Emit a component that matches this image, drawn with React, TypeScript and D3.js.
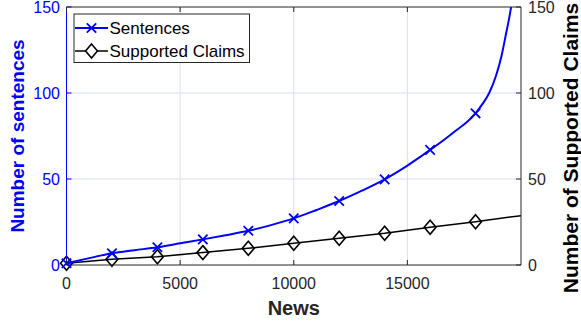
import React from "react";
import * as d3 from "d3";

const newsX = [0, 1000, 2000, 3000, 4000, 5000, 6000, 7000, 8000, 9000, 10000, 11000, 12000, 13000, 14000, 15000, 16000, 17000, 18000, 18300, 18600, 18900, 19150, 19350, 19500, 19565];
const sentences = [1, 4, 6.8, 8.6, 10.3, 12.6, 14.9, 17.3, 19.9, 23.2, 27.1, 32, 37.2, 43.2, 49.8, 57.8, 66.9, 76.8, 88.2, 93.5, 100, 110, 122, 135, 145, 150];
const markerX = [0, 2000, 4000, 6000, 8000, 10000, 12000, 14000, 16000, 18000];
const sentenceMarks = [1, 6.8, 10.3, 14.9, 19.9, 27.1, 37.2, 49.8, 66.9, 88.2];
const claimsX = [0, 2000, 4000, 6000, 8000, 10000, 12000, 14000, 16000, 18000, 20000];
const claims = [1, 3.3, 4.8, 7.2, 9.7, 12.6, 15.5, 18.4, 21.9, 25.2, 28.7];
const claimMarkIdx = [0, 1, 2, 3, 4, 5, 6, 7, 8, 9];
const xTicks = [0, 5000, 10000, 15000];
const yTicks = [0, 50, 100, 150];
const legendLabels = ["Sentences", "Supported Claims"];

const W = 581, H = 327;
const L = 66.5, R = 521, T = 7, B = 265;
const FONT = "'Liberation Sans', Arial, Helvetica, sans-serif";
const DARK = "#262626";
const BLUE = "#0000ff";

export default function App() {
  const x = d3.scaleLinear().domain([0, 20000]).range([L, R]);
  const y = d3.scaleLinear().domain([0, 150]).range([B, T]);
  const lineS = d3.line<number>().x((_, i) => x(newsX[i])).y((d) => y(d)).curve(d3.curveMonotoneX);
  const lineC = d3.line<number>().x((_, i) => x(claimsX[i])).y((d) => y(d));
  const tick = 5;
  const xm = 4.7, dm = 7;
  return (
    <div style={{ position: "fixed", left: 0, top: 0 }}>
      <svg width={W} height={H} style={{ display: "block", background: "#fff" }} fontFamily={FONT}>
        <rect x={0} y={0} width={W} height={H} fill="#fff" />
        {/* grid */}
        {xTicks.filter((t) => t > 0).map((t) => (
          <line key={"gx" + t} x1={x(t)} x2={x(t)} y1={T} y2={B} stroke="#dfdfdf" strokeWidth={1} />
        ))}
        {yTicks.filter((t) => t > 0 && t < 150).map((t) => (
          <line key={"gy" + t} x1={L} x2={R} y1={y(t)} y2={y(t)} stroke="#d9d9ff" strokeWidth={1} />
        ))}
        {/* series */}
        <defs>
          <clipPath id="plotclip">
            <rect x={L} y={T} width={R - L} height={B - T} />
          </clipPath>
        </defs>
        <path d={lineC(claims) || ""} fill="none" stroke="#000" strokeWidth={1.5} clipPath="url(#plotclip)" />
        {claimMarkIdx.map((i) => (
          <path key={"dm" + i}
            d={`M${x(claimsX[i])},${y(claims[i]) - dm}L${x(claimsX[i]) + dm * 0.85},${y(claims[i])}L${x(claimsX[i])},${y(claims[i]) + dm}L${x(claimsX[i]) - dm * 0.85},${y(claims[i])}Z`}
            fill="none" stroke="#000" strokeWidth={1.6} />
        ))}
        <path d={lineS(sentences) || ""} fill="none" stroke={BLUE} strokeWidth={2} clipPath="url(#plotclip)" />
        {markerX.map((v, i) => (
          <path key={"xm" + i}
            d={`M${x(v) - xm},${y(sentenceMarks[i]) - xm}L${x(v) + xm},${y(sentenceMarks[i]) + xm}M${x(v) - xm},${y(sentenceMarks[i]) + xm}L${x(v) + xm},${y(sentenceMarks[i]) - xm}`}
            stroke={BLUE} strokeWidth={1.8} fill="none" />
        ))}
        {/* axes box */}
        <line x1={L} x2={R} y1={T} y2={T} stroke={DARK} strokeWidth={1} />
        <line x1={L} x2={R} y1={B} y2={B} stroke={DARK} strokeWidth={1} />
        <line x1={R} x2={R} y1={T} y2={B} stroke={DARK} strokeWidth={1} />
        <line x1={L} x2={L} y1={T} y2={B} stroke={BLUE} strokeWidth={1} />
        {/* x ticks */}
        {xTicks.map((t) => (
          <g key={"xt" + t}>
            <line x1={x(t)} x2={x(t)} y1={B} y2={B - tick} stroke={DARK} />
            <line x1={x(t)} x2={x(t)} y1={T} y2={T + tick} stroke={DARK} />
            <text x={x(t)} y={283} textAnchor="middle" dominantBaseline="central" fontSize={16} fill={DARK}>{t}</text>
          </g>
        ))}
        {/* left y ticks */}
        {yTicks.map((t) => (
          <g key={"yl" + t}>
            <line x1={L} x2={L + tick} y1={y(t)} y2={y(t)} stroke={BLUE} />
            <text x={60} y={y(t)} textAnchor="end" dominantBaseline="central" fontSize={16} fill={BLUE}>{t}</text>
          </g>
        ))}
        {/* right y ticks */}
        {yTicks.map((t) => (
          <g key={"yr" + t}>
            <line x1={R} x2={R - tick} y1={y(t)} y2={y(t)} stroke={DARK} />
            <text x={528} y={y(t)} textAnchor="start" dominantBaseline="central" fontSize={16} fill={DARK}>{t}</text>
          </g>
        ))}
        {/* axis labels */}
        <text x={(L + R) / 2} y={308} textAnchor="middle" dominantBaseline="central" fontSize={20} fontWeight="bold" fill={DARK}>News</text>
        <text transform={`translate(17.5,${(T + B) / 2}) rotate(-90)`} textAnchor="middle" dominantBaseline="central" fontSize={19} fontWeight="bold" fill={BLUE}>Number of sentences</text>
        <text transform={`translate(570.5,148) rotate(-90)`} textAnchor="middle" dominantBaseline="central" fontSize={21} fontWeight="bold" fill="#000">Number of Supported Claims</text>
        {/* legend */}
        <rect x={74} y={14} width={175.5} height={48.5} fill="#fff" stroke={DARK} strokeWidth={1} />
        <line x1={75} x2={108} y1={28} y2={28} stroke={BLUE} strokeWidth={2} />
        <path d={`M${91.5 - xm},${28 - xm}L${91.5 + xm},${28 + xm}M${91.5 - xm},${28 + xm}L${91.5 + xm},${28 - xm}`} stroke={BLUE} strokeWidth={1.8} />
        <line x1={75} x2={108} y1={51} y2={51} stroke="#000" strokeWidth={1.5} />
        <path d={`M91.5,${51 - dm}L${91.5 + dm * 0.85},51L91.5,${51 + dm}L${91.5 - dm * 0.85},51Z`} fill="#fff" stroke="#000" strokeWidth={1.6} />
        <text x={109.5} y={28} dominantBaseline="central" fontSize={17} fill="#000">{legendLabels[0]}</text>
        <text x={109.5} y={51} dominantBaseline="central" fontSize={17} fill="#000">{legendLabels[1]}</text>
      </svg>
    </div>
  );
}
